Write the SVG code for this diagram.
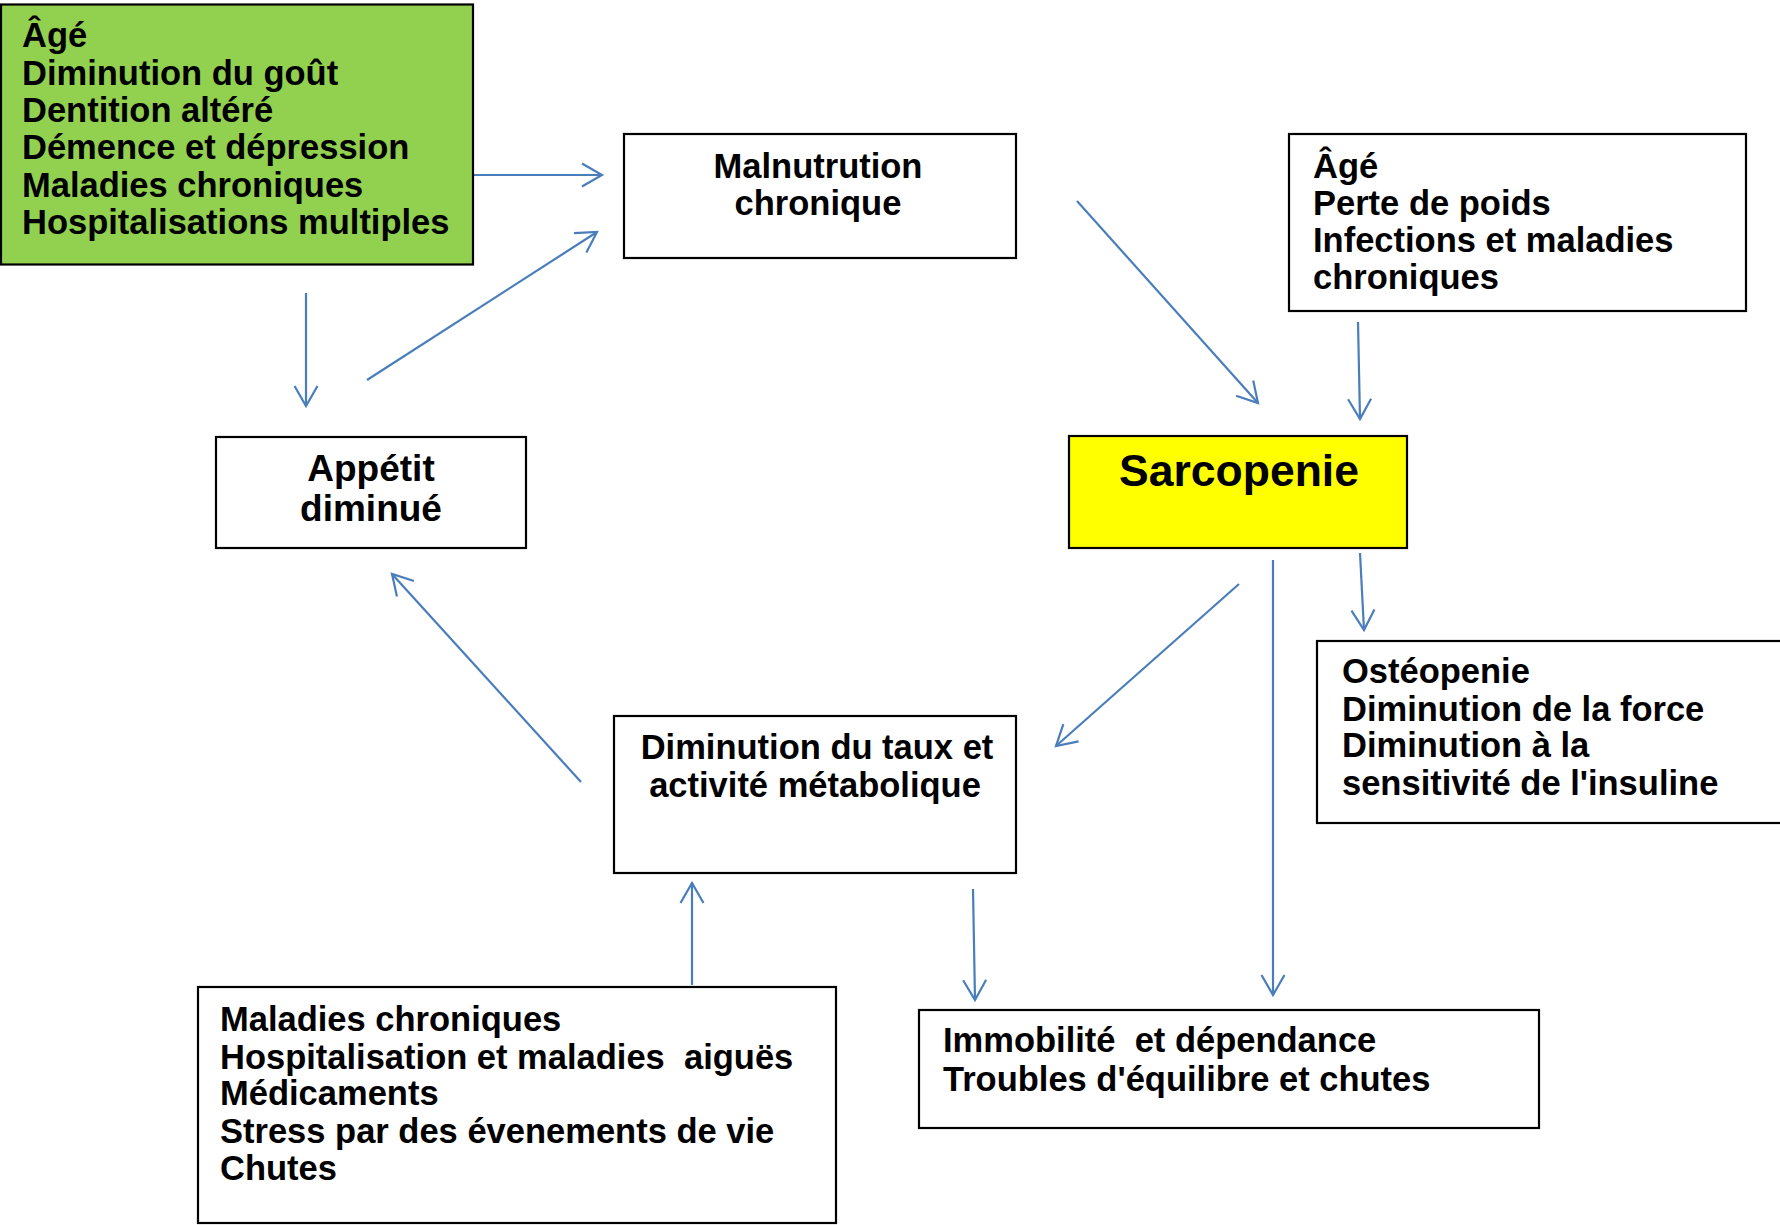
<svg xmlns="http://www.w3.org/2000/svg" width="1780" height="1225" viewBox="0 0 1780 1225">
<style>
.box{fill:#fff;stroke:#000;stroke-width:2.2}
.t{font-family:"Liberation Sans",Arial,sans-serif;font-weight:bold;font-size:34.5px;fill:#000;white-space:pre}
.c{text-anchor:middle}
.ln{fill:none;stroke:#4A7EBB;stroke-width:2.2;marker-end:url(#arr)}
</style>
<defs>
<marker id="arr" markerUnits="userSpaceOnUse" markerWidth="30" markerHeight="30" refX="0" refY="0" orient="auto" overflow="visible">
<path d="M-20,-11.5 L0,0 L-20,11.5" fill="none" stroke="#4A7EBB" stroke-width="2.2"/>
</marker>
</defs>
<rect width="1780" height="1225" fill="#fff"/>
<g id="connectors">
<line class="ln" x1="473" y1="175" x2="602" y2="175"/>
<line class="ln" x1="306" y1="293" x2="306" y2="406"/>
<line class="ln" x1="367" y1="380" x2="597" y2="232"/>
<line class="ln" x1="1077" y1="201" x2="1258" y2="403"/>
<line class="ln" x1="1358" y1="322" x2="1360" y2="419"/>
<line class="ln" x1="1360" y1="553" x2="1364" y2="630"/>
<line class="ln" x1="1239" y1="584" x2="1056" y2="746"/>
<line class="ln" x1="1273" y1="560" x2="1273" y2="995"/>
<line class="ln" x1="581" y1="782" x2="392" y2="574"/>
<line class="ln" x1="692" y1="985" x2="692" y2="883"/>
<line class="ln" x1="973" y1="889" x2="975" y2="1000"/>
</g>
<g id="risques">
<rect x="1" y="4.5" width="472" height="260" fill="#92D050" stroke="#000" stroke-width="2.2"/>
<text class="t" x="22" y="47">Âgé</text>
<text class="t" x="22" y="85">Diminution du goût</text>
<text class="t" x="22" y="122">Dentition altéré</text>
<text class="t" x="22" y="159">Démence et dépression</text>
<text class="t" x="22" y="197">Maladies chroniques</text>
<text class="t" x="22" y="234">Hospitalisations multiples</text>
</g>
<g id="malnutrition">
<rect class="box" x="624" y="134" width="392" height="124"/>
<text class="t c" x="818" y="177.5">Malnutrution</text>
<text class="t c" x="818" y="215">chronique</text>
</g>
<g id="age-perte">
<rect class="box" x="1289" y="134" width="457" height="177"/>
<text class="t" x="1313" y="177.5">Âgé</text>
<text class="t" x="1313" y="214.5">Perte de poids</text>
<text class="t" x="1313" y="251.5">Infections et maladies</text>
<text class="t" x="1313" y="288.5">chroniques</text>
</g>
<g id="appetit">
<rect class="box" x="216" y="437" width="310" height="111"/>
<text class="t c" x="371" y="481" style="font-size:37px">Appétit</text>
<text class="t c" x="371" y="521" style="font-size:37px">diminué</text>
</g>
<g id="sarcopenie">
<rect x="1069" y="436" width="338" height="112" fill="#FFFF00" stroke="#000" stroke-width="2.2"/>
<text class="t c" x="1239" y="486" style="font-size:44.5px">Sarcopenie</text>
</g>
<g id="osteopenie">
<rect class="box" x="1317" y="641" width="480" height="182"/>
<text class="t" x="1342" y="683">Ostéopenie</text>
<text class="t" x="1342" y="721">Diminution de la force</text>
<text class="t" x="1342" y="757">Diminution à la</text>
<text class="t" x="1342" y="795">sensitivité de l'insuline</text>
</g>
<g id="metabolique">
<rect class="box" x="614" y="716" width="402" height="157"/>
<text class="t c" x="817" y="759">Diminution du taux et</text>
<text class="t c" x="815" y="797">activité métabolique</text>
</g>
<g id="causes">
<rect class="box" x="198" y="987" width="638" height="236"/>
<text class="t" x="220" y="1031">Maladies chroniques</text>
<text class="t" x="220" y="1069">Hospitalisation et maladies  aiguës</text>
<text class="t" x="220" y="1105">Médicaments</text>
<text class="t" x="220" y="1143">Stress par des évenements de vie</text>
<text class="t" x="220" y="1180">Chutes</text>
</g>
<g id="immobilite">
<rect class="box" x="919" y="1010" width="620" height="118"/>
<text class="t" x="943" y="1052">Immobilité  et dépendance</text>
<text class="t" x="943" y="1091">Troubles d'équilibre et chutes</text>
</g>
</svg>
